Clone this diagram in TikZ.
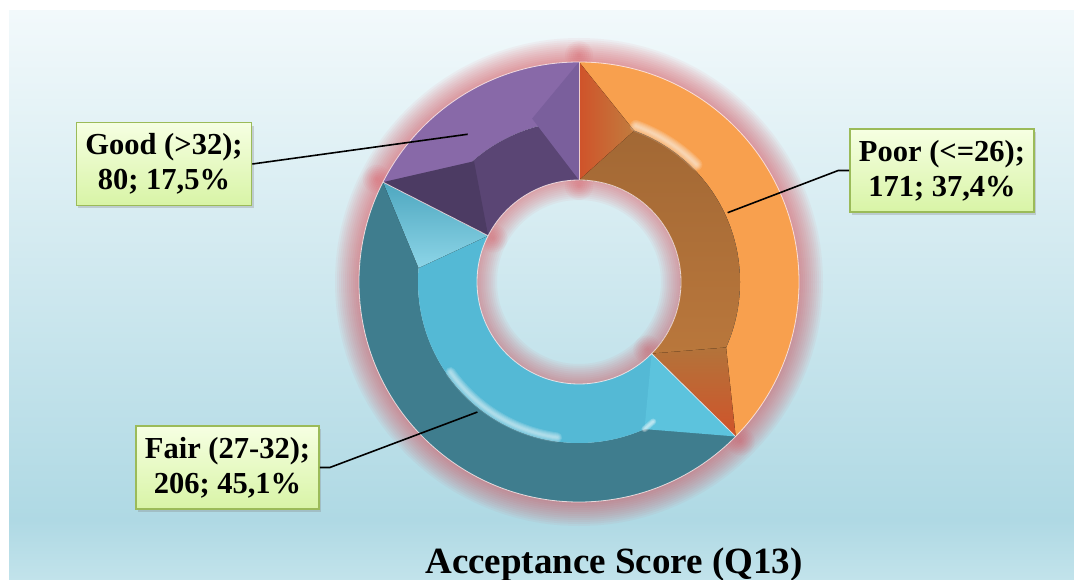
\documentclass[tikz,border=0pt]{standalone}
\usepackage{fontspec}
\setmainfont{Liberation Serif}
\usetikzlibrary{shadows}

\definecolor{bgtop}{HTML}{F2F9FB}
\definecolor{bgmid}{HTML}{AFD9E4}
\definecolor{bgbot}{HTML}{C2E3EB}
\definecolor{glowred}{HTML}{D9404A}
\definecolor{poorout}{HTML}{F8A04E}
\definecolor{poorin}{HTML}{B3733A}
\definecolor{poorcap}{HTML}{D0532A}
\definecolor{fairout}{HTML}{3F7D8E}
\definecolor{fairin}{HTML}{54B9D5}
\definecolor{faircap}{HTML}{5CC3DD}
\definecolor{goodout}{HTML}{8869A8}
\definecolor{goodin}{HTML}{5A4574}
\definecolor{goodcap}{HTML}{7A5F9C}
\definecolor{boxtop}{HTML}{F6FFE2}
\definecolor{boxbot}{HTML}{D8F4A6}
\definecolor{boxline}{HTML}{9BBB59}

\tikzset{
  labelbox/.style={draw=boxline, line width=1.5pt, top color=boxtop, bottom color=boxbot,
    align=center, font=\bfseries\fontsize{30.5}{35}\selectfont,
    inner xsep=9pt, inner ysep=11pt,
    drop shadow={shadow xshift=2pt, shadow yshift=-3pt, opacity=0.3}},
  leader/.style={draw=black, line width=1.6pt},
  rim/.style={draw=white!75!pink, line width=0.8pt, draw opacity=0.8}
}

\begin{document}
\begin{tikzpicture}[x=1pt, y=1pt]
        \useasboundingbox (0,0) rectangle (1074,-580);

        % Background
        \fill[top color=bgtop, bottom color=bgmid] (9,-11) rectangle (1074,-520);
        \fill[top color=bgmid, bottom color=bgbot] (9,-520) rectangle (1074,-580);

        \begin{scope}[shift={(579,-282)}]
        % Glow
        \foreach \w in {4,8,...,48}
            \draw[glowred, opacity=0.05, line width=\w pt] (0,0) circle (220);
        \foreach \w in {4,8,...,40}
            \draw[glowred, opacity=0.05, line width=\w pt] (0,0) circle (102);
        \foreach \a in {90,-44.6,153} {
            \foreach \k in {2,4,...,14} {
                \fill[glowred, opacity=0.05] (\a:227) circle (\k);
                \fill[glowred, opacity=0.05] (\a:96) circle (\k);
            }
        }

        % Poor (<=26)
        \fill[poorout] (90:220) arc[start angle=90, end angle=-44.6, radius=220]
            -- (-44.6:161) arc[start angle=-44.6, end angle=90, radius=161] -- cycle;
        \fill[top color=poorin!90!black, bottom color=poorin!85!poorout] (90:161) arc[start angle=90, end angle=-44.6, radius=161]
            -- (-44.6:102) arc[start angle=-44.6, end angle=90, radius=102] -- cycle;
        \fill[left color=poorcap, right color=poorin!80!poorout] (90:220) -- (90:102) -- (70:161) -- cycle;
        \fill[top color=poorin, bottom color=poorcap] (-44.6:220) -- (-44.6:102) -- (-24:161) -- cycle;
        \foreach \w in {2,4,...,12}
            \draw[white, opacity=0.13, line width=\w pt, line cap=round] (70:166) arc[start angle=70, end angle=45, radius=166];

        % Fair (27-32)
        \fill[fairout] (-44.6:220) arc[start angle=-44.6, end angle=-207, radius=220]
            -- (-207:161) arc[start angle=-207, end angle=-44.6, radius=161] -- cycle;
        \fill[fairin] (-44.6:161) arc[start angle=-44.6, end angle=-207, radius=161]
            -- (-207:102) arc[start angle=-207, end angle=-44.6, radius=102] -- cycle;
        \fill[faircap] (-44.6:220) -- (-44.6:102) -- (-66:161) -- cycle;
        \fill[top color=fairin!70!fairout, bottom color=faircap!70!white] (153:220) -- (153:102) -- (175:161) -- cycle;
        \foreach \w in {2,4,...,10}
            \draw[white, opacity=0.14, line width=\w pt, line cap=round] (215:157) arc[start angle=215, end angle=262, radius=157];
        \foreach \w in {2,4,6}
            \draw[white, opacity=0.25, line width=\w pt, line cap=round] (-62:158) -- (-66:161);

        % Good (>32)
        \fill[goodout] (153:220) arc[start angle=153, end angle=90, radius=220]
            -- (90:161) arc[start angle=90, end angle=153, radius=161] -- cycle;
        \fill[goodin] (153:161) arc[start angle=153, end angle=90, radius=161]
            -- (90:102) arc[start angle=90, end angle=153, radius=102] -- cycle;
        \fill[goodcap] (90:220) -- (90:102) -- (106:170) -- cycle;
        \fill[goodin!85!black] (153:220) -- (153:102) -- (131:160) -- cycle;

        % Rims
        \draw[rim] (0,0) circle (220);
        \draw[rim] (0,0) circle (102);
        \foreach \a in {90,-44.6,153}
            \draw[rim] (\a:102) -- (\a:220);

        % Leader ends
        \coordinate (goodpt) at (127:185);
        \coordinate (poorpt) at (25:164);
        \coordinate (fairpt) at (232:165);
        \end{scope}

        % Nodes
        \node[labelbox] (good) at (164,-164) {Good (>32);\\80; 17,5\%};
        \node[labelbox] (poor) at (942,-170.5) {Poor (<=26);\\171; 37,4\%};
        \node[labelbox] (fair) at (227.5,-467.5) {Fair (27-32);\\206; 45,1\%};
        \node[font=\bfseries\fontsize{37}{42}\selectfont, anchor=base] (title) at (614,-573) {Acceptance Score (Q13)};

        % Edges
        \draw[leader] (good.east) -- (goodpt);
        \draw[leader] (poor.west) -- ++(-11,0) -- (poorpt);
        \draw[leader] (fair.east) -- ++(10,0) -- (fairpt);

    \end{tikzpicture}
\end{document}
